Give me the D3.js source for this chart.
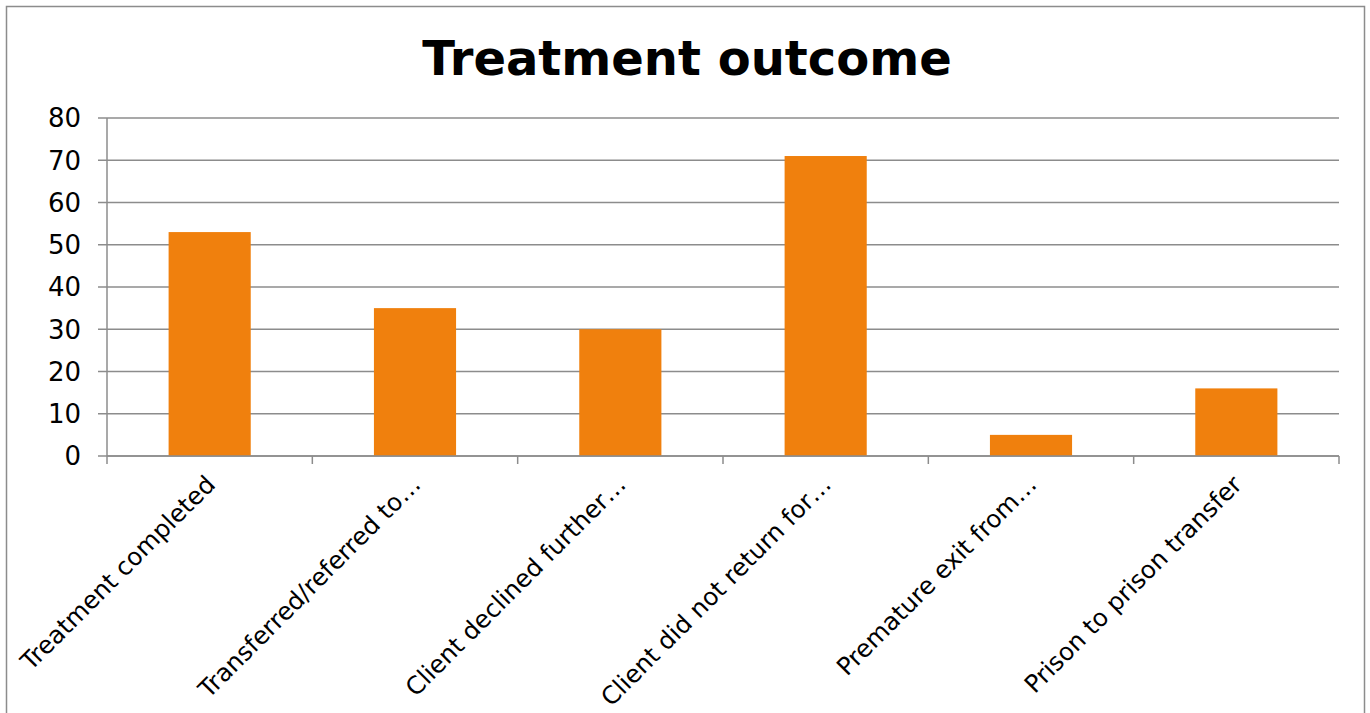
<!DOCTYPE html>
<html>
<head>
<meta charset="utf-8">
<script src="https://cdn.jsdelivr.net/npm/d3@7"></script>
<style>
  html, body { margin: 0; padding: 0; background: #fff; }
  svg { display: block; }
  text { font-family: "DejaVu Sans", Verdana, sans-serif; fill: #000; }
</style>
</head>
<body>
<svg id="chart" width="1370" height="713"></svg>
<script>
// Treatment outcome counts
const categories = [
  "Treatment completed",
  "Transferred/referred to…",
  "Client declined further…",
  "Client did not return for…",
  "Premature exit from…",
  "Prison to prison transfer"
];
const counts = [53, 35, 30, 71, 5, 16];
const yTicks = [0, 10, 20, 30, 40, 50, 60, 70, 80];
const chartTitle = "Treatment outcome";

const svg = d3.select("#chart");
const plot = { left: 107, right: 1339, top: 118, bottom: 456 };
const gridColor = "#8c8c8c";

// Frame around the chart area
svg.append("rect")
  .attr("x", 6.5).attr("y", 6.5)
  .attr("width", 1358).attr("height", 730)
  .attr("fill", "#fff").attr("stroke", "#8c8c8c").attr("stroke-width", 1.5);

// Title
svg.append("text")
  .attr("x", 687).attr("y", 75)
  .attr("text-anchor", "middle")
  .attr("font-size", 48).attr("font-weight", "bold")
  .text(chartTitle);

const x = d3.scaleBand().domain(categories).range([plot.left, plot.right]).paddingInner(0.6).paddingOuter(0.3);
const xBounds = d3.scaleLinear().domain([0, categories.length]).range([plot.left, plot.right]);
const y = d3.scaleLinear().domain([0, 80]).range([plot.bottom, plot.top]);

// Horizontal gridlines
svg.append("g")
  .selectAll("line").data(yTicks).join("line")
  .attr("x1", plot.left - 9).attr("x2", plot.right)
  .attr("y1", d => y(d)).attr("y2", d => y(d))
  .attr("stroke", gridColor).attr("stroke-width", 1.5);

// Bars
svg.append("g")
  .selectAll("rect").data(categories).join("rect")
  .attr("x", d => x(d))
  .attr("width", x.bandwidth())
  .attr("y", (d, i) => y(counts[i]))
  .attr("height", (d, i) => y(0) - y(counts[i]))
  .attr("fill", "#f0800d");

// Y axis line
svg.append("line")
  .attr("x1", plot.left).attr("x2", plot.left)
  .attr("y1", plot.top).attr("y2", plot.bottom + 8)
  .attr("stroke", gridColor).attr("stroke-width", 1.5);

// X axis baseline and category boundary ticks
svg.append("line")
  .attr("x1", plot.left).attr("x2", plot.right)
  .attr("y1", plot.bottom).attr("y2", plot.bottom)
  .attr("stroke", gridColor).attr("stroke-width", 1.5);
svg.append("g")
  .selectAll("line").data(d3.range(1, categories.length + 1)).join("line")
  .attr("x1", d => xBounds(d)).attr("x2", d => xBounds(d))
  .attr("y1", plot.bottom).attr("y2", plot.bottom + 8)
  .attr("stroke", gridColor).attr("stroke-width", 1.5);

// Y tick labels
svg.append("g")
  .selectAll("text").data(yTicks).join("text")
  .attr("x", plot.left - 26).attr("y", d => y(d))
  .attr("dy", "0.36em")
  .attr("text-anchor", "end")
  .attr("font-size", 26)
  .text(d => d);

// Rotated category labels
svg.append("g")
  .selectAll("text").data(categories).join("text")
  .attr("transform", d => {
    const cx = x(d) + x.bandwidth() / 2 + 7;
    return `translate(${cx},${plot.bottom + 30}) rotate(-45)`;
  })
  .attr("text-anchor", "end")
  .attr("font-size", 24.5)
  .text(d => d);
</script>
</body>
</html>
